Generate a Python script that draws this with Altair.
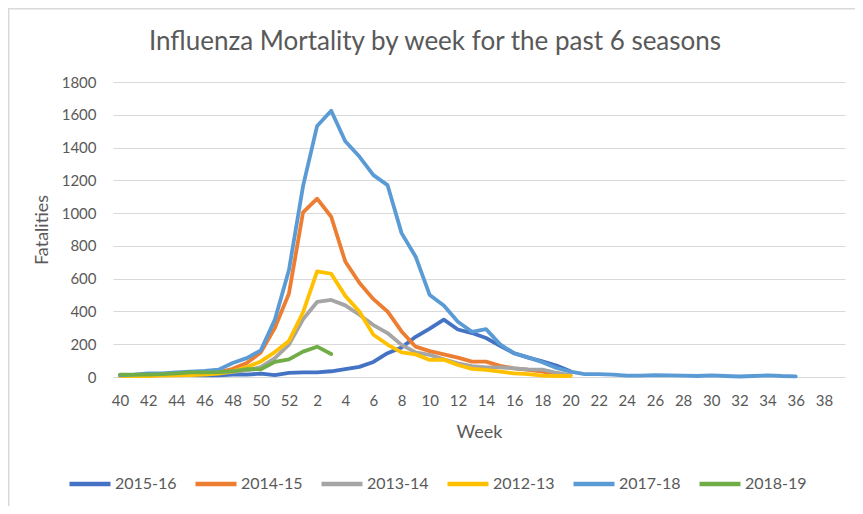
import altair as alt
import pandas as pd

weeks = [str(w) for w in list(range(40, 53)) + list(range(1, 40))]

seasons = ["2015-16", "2014-15", "2013-14", "2012-13", "2017-18", "2018-19"]
colors = ["#4472C4", "#ED7D31", "#A5A5A5", "#FFC000", "#5B9BD5", "#70AD47"]

s2015_16 = [12, 12, 12, 12, 12, 12, 10, 10, 15, 15, 20, 12, 25,
            28, 28, 35, 48, 62, 92, 145, 180, 245, 295, 350, 290, 268, 238, 190, 145, 118, 95, 70, 35]
s2014_15 = [10, 10, 12, 15, 18, 20, 22, 28, 50, 85, 150, 300, 510,
            1005, 1088, 978, 705, 575, 475, 400, 278, 185, 158, 138, 118, 94, 94, 68, 53, 43, 33, 18, 10]
s2013_14 = [8, 8, 10, 12, 15, 18, 20, 25, 30, 40, 60, 115, 198,
            352, 458, 470, 437, 380, 317, 268, 196, 150, 135, 108, 83, 67, 59, 59, 53, 47, 45, 26, 10]
s2012_13 = [5, 5, 6, 8, 10, 12, 15, 20, 35, 60, 95, 152, 220,
            395, 645, 630, 495, 400, 258, 198, 150, 138, 104, 106, 73, 50, 43, 33, 22, 18, 8, 6, 6]
s2017_18 = [10, 14, 22, 22, 28, 33, 38, 45, 85, 115, 163, 350, 653,
            1165, 1532, 1625, 1438, 1345, 1232, 1171, 878, 734, 500, 436, 337, 276, 292, 200,
            144, 120, 90, 55, 33, 18, 18, 15, 8, 8, 12, 10, 8, 6, 10, 6, 3, 6, 10, 6, 4]
s2018_19 = [15, 15, 15, 18, 22, 28, 28, 30, 35, 48, 47, 92, 108,
            155, 185, 140]

series = [s2015_16, s2014_15, s2013_14, s2012_13, s2017_18, s2018_19]

rows = []
for k, (name, vals) in enumerate(zip(seasons, series)):
    for i, v in enumerate(vals):
        rows.append({"Week": weeks[i], "Fatalities": v, "Season": name, "ord": k})
df = pd.DataFrame(rows)

FONT = "Lato"
GREY = "#595959"

lines = alt.Chart(df).mark_line(strokeWidth=3.8, strokeCap="round", strokeJoin="round").encode(
    x=alt.X("Week:O", sort=weeks, scale=alt.Scale(domain=weeks, padding=0.5),
            axis=alt.Axis(title="Week", labelAngle=0, ticks=False, tickSize=0, domain=False,
                          grid=False, labelPadding=16, titlePadding=15,
                          labelExpr="parseInt(datum.value) % 2 == 0 ? datum.value : ''")),
    y=alt.Y("Fatalities:Q", scale=alt.Scale(domain=[0, 1800], nice=False),
            axis=alt.Axis(title="Fatalities", values=list(range(0, 1801, 200)), format="d",
                          ticks=False, tickSize=0, domain=False, labelPadding=17, titlePadding=10,
                          gridColor="#D9D9D9", gridWidth=1.2)),
    color=alt.Color("Season:N", scale=alt.Scale(domain=seasons, range=colors),
                    legend=alt.Legend(title=None, orient="none", direction="horizontal",
                                      legendX=-46, legendY=379, symbolType="stroke",
                                      symbolSize=1681, symbolStrokeWidth=4.5,
                                      labelOffset=2, columnPadding=9,
                                      labelFont=FONT, labelFontSize=16, labelColor=GREY)),
    detail="ord:O",
    order="ord:O",
)

one = pd.DataFrame({"a": [0]})
top_border = alt.Chart(one).mark_rule(color="#D9D9D9", strokeWidth=1.5).encode(
    x=alt.value(-104.5), x2=alt.value(745), y=alt.value(-73.3))
left_border = alt.Chart(one).mark_rule(color="#D9D9D9", strokeWidth=1.5).encode(
    x=alt.value(-104.3), y=alt.value(-74), y2=alt.value(424))

chart = alt.layer(top_border, left_border, lines).properties(
    width=732, height=295,
    autosize=alt.AutoSizeParams(type="none"),
    padding={"left": 105, "top": 74, "right": 10, "bottom": 129},
    title=alt.TitleParams("Influenza Mortality by week for the past 6 seasons",
                          font=FONT, fontSize=26, fontWeight="normal", color=GREY,
                          anchor="middle", dx=-44, offset=-69, baseline="alphabetic"),
).configure_view(stroke=None).configure_axis(
    labelFont=FONT, labelFontSize=15, labelColor=GREY,
    titleFont=FONT, titleFontSize=18, titleFontWeight="normal", titleColor=GREY,
)

chart.save("out.html", embed_options={"renderer": "svg", "actions": False})
